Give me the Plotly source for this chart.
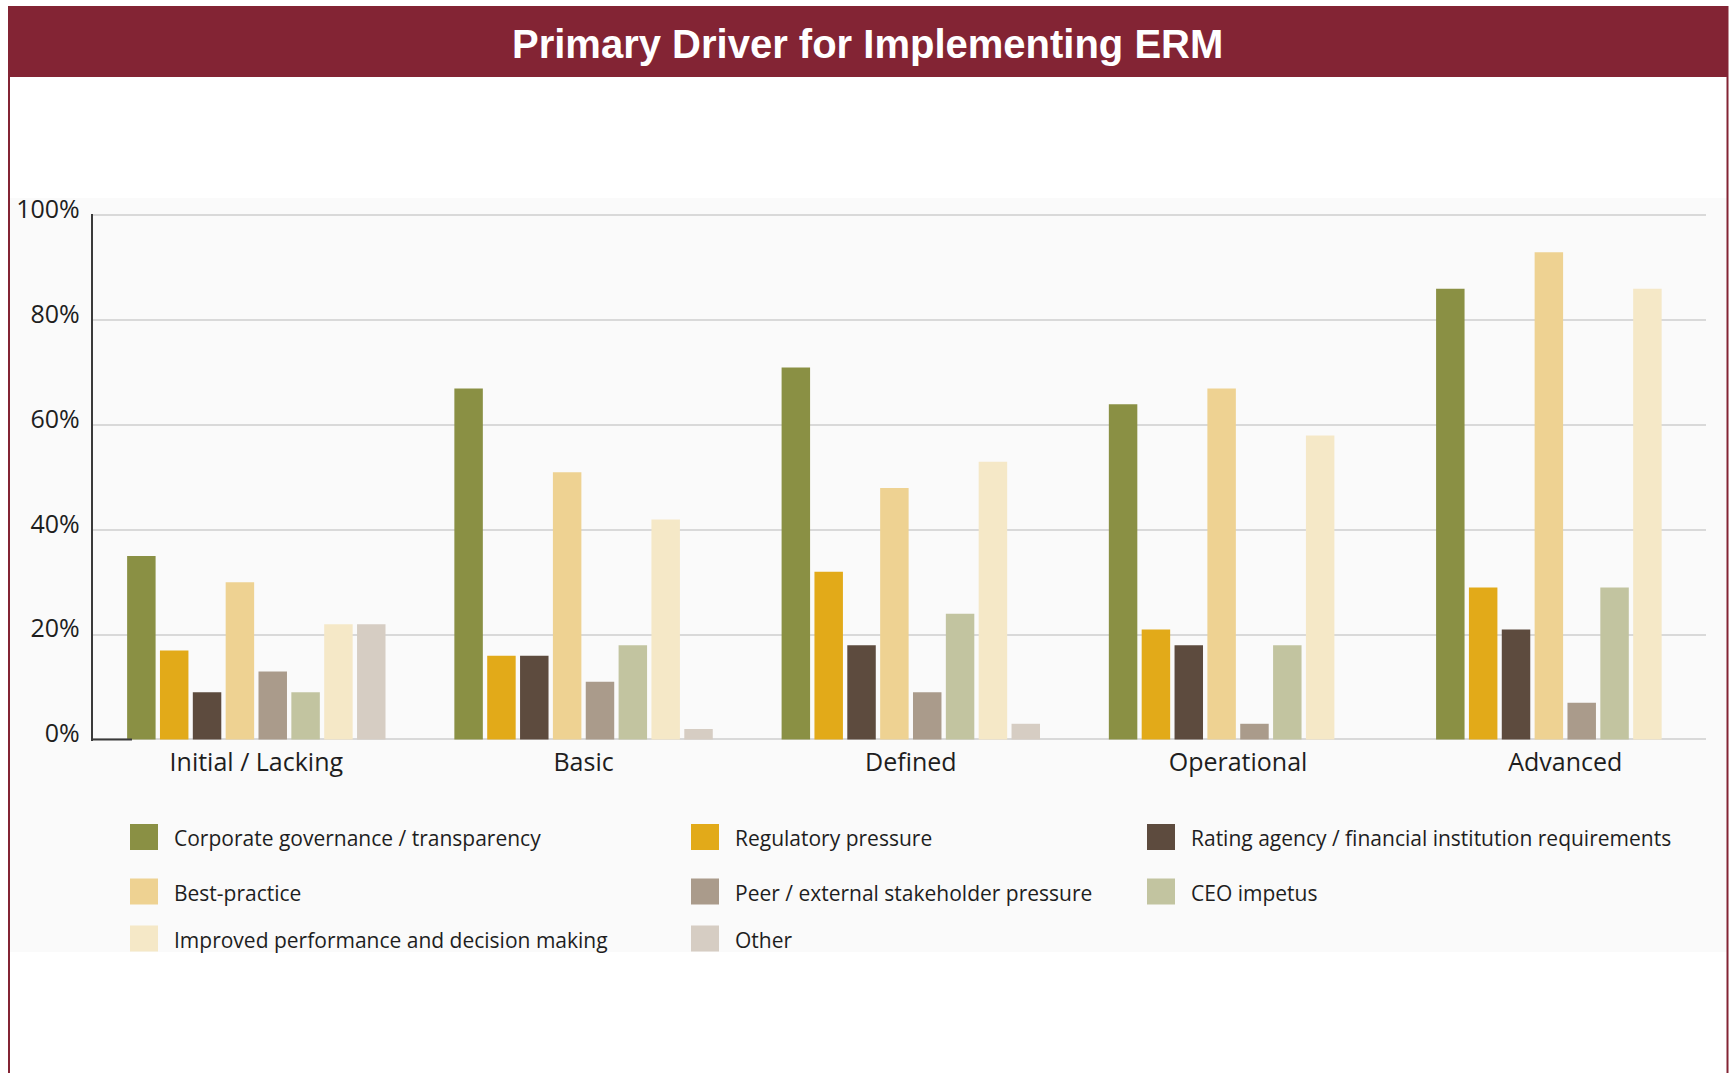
import plotly.graph_objects as go

# ---------------- data ----------------
categories = ["Initial / Lacking", "Basic", "Defined", "Operational", "Advanced"]

series_names = [
    "Corporate governance / transparency",
    "Regulatory pressure",
    "Rating agency / financial institution requirements",
    "Best-practice",
    "Peer / external stakeholder pressure",
    "CEO impetus",
    "Improved performance and decision making",
    "Other",
]

corporate_governance = [35, 67, 71, 64, 86]
regulatory_pressure = [17, 16, 32, 21, 29]
rating_agency = [9, 16, 18, 18, 21]
best_practice = [30, 51, 48, 67, 93]
peer_pressure = [13, 11, 9, 3, 7]
ceo_impetus = [9, 18, 24, 18, 29]
improved_performance = [22, 42, 53, 58, 86]
other = [22, 2, 3, 0, 0]

series_values = [
    corporate_governance, regulatory_pressure, rating_agency, best_practice,
    peer_pressure, ceo_impetus, improved_performance, other,
]

series_colors = ["#8a9044", "#e2aa19", "#5d4b3e", "#eed292",
                 "#aa9b8b", "#c2c4a0", "#f5e8c7", "#d6cdc3"]

y_tick_values = [0, 20, 40, 60, 80, 100]
y_tick_labels = ["0%", "20%", "40%", "60%", "80%", "100%"]
title_text = "Primary Driver for Implementing ERM"

# ---------------- layout helpers ----------------
W, H = 1729, 1073
FONT = "Open Sans, Noto Sans, sans-serif"
MAROON = "#832434"


def px(x):
    return x / W


def py(y):
    return 1 - y / H


fig = go.Figure()
for name, vals, col in zip(series_names, series_values, series_colors):
    fig.add_trace(go.Bar(
        x=categories, y=vals, name=name,
        marker=dict(color=col, line=dict(width=0)),
        showlegend=False,
        hovertemplate="%{x}<br>" + name + ": %{y}%<extra></extra>",
    ))

# plot area (pixels); y range padded slightly so the 0% and 100% gridlines are drawn
Y_PAD = 0.3
PX_PER_UNIT = (739.5 - 215.5) / 100
plot_left, plot_right = 92.7, 1706
plot_top = 215.5 - Y_PAD * PX_PER_UNIT
plot_bottom = 739.5 + Y_PAD * PX_PER_UNIT

shapes = []
annotations = []

# light panel behind chart + legend
shapes.append(dict(type="rect", xref="paper", yref="paper",
                   x0=px(10), x1=px(1727), y0=py(952), y1=py(198),
                   fillcolor="#fafafa", line=dict(width=0), layer="below"))
# title band
shapes.append(dict(type="rect", xref="paper", yref="paper",
                   x0=px(8), x1=px(1728), y0=py(77), y1=py(6),
                   fillcolor=MAROON, line=dict(width=0), layer="below"))
# outer frame (left / right sides)
for xx in (9, 1727.5):
    shapes.append(dict(type="line", xref="paper", yref="paper",
                       x0=px(xx), x1=px(xx), y0=0, y1=py(6),
                       line=dict(color=MAROON, width=2), layer="above"))
# short dark baseline stub at the origin
shapes.append(dict(type="line", xref="x", yref="y",
                   x0=-0.5, x1=-0.38, y0=0, y1=0,
                   line=dict(color="#3a3a3a", width=2), layer="above"))

annotations.append(dict(text="<b>" + title_text + "</b>", xref="paper", yref="paper",
                        x=px(868), y=py(44), xanchor="center", yanchor="middle",
                        showarrow=False,
                        font=dict(family="Liberation Sans, Arial, sans-serif",
                                  size=40, color="white")))

# legend (3 columns, row-major)
col_x = [130, 691, 1147]
row_y = [837, 891.5, 938.5]
for i, (name, col) in enumerate(zip(series_names, series_colors)):
    r, c = divmod(i, 3)
    x0 = col_x[c]
    yc = row_y[r]
    shapes.append(dict(type="rect", xref="paper", yref="paper",
                       x0=px(x0), x1=px(x0 + 28), y0=py(yc + 13), y1=py(yc - 13),
                       fillcolor=col, line=dict(width=0), layer="above"))
    annotations.append(dict(text=name, xref="paper", yref="paper",
                            x=px(x0 + 42), y=py(yc + 1), xanchor="left", yanchor="middle",
                            showarrow=False,
                            font=dict(family=FONT, size=21, color="#1e1e1e")))

fig.update_layout(
    width=W, height=H,
    margin=dict(l=0, r=0, t=0, b=0, pad=0, autoexpand=False),
    paper_bgcolor="white",
    plot_bgcolor="#fafafa",
    barmode="group",
    bargap=0.197,
    bargroupgap=0.133,
    showlegend=False,
    shapes=shapes,
    annotations=annotations,
    font=dict(family=FONT, color="#1e1e1e"),
    xaxis=dict(
        domain=[px(plot_left), px(plot_right)],
        range=[-0.5, 4.43],
        showgrid=False, zeroline=False, showline=False,
        ticks="", ticklabelstandoff=4,
        tickfont=dict(family=FONT, size=25, color="#1e1e1e"),
        fixedrange=True, automargin=False,
    ),
    yaxis=dict(
        domain=[py(plot_bottom), py(plot_top)],
        range=[-Y_PAD, 100 + Y_PAD],
        tickmode="array", tickvals=y_tick_values, ticktext=y_tick_labels,
        showgrid=True, gridcolor="#d9d9d9", gridwidth=1.5,
        zeroline=False,
        showline=True, linecolor="#3a3a3a", linewidth=2,
        ticks="", ticklabelstandoff=6, ticklabelshift=-6,
        tickfont=dict(family=FONT, size=25, color="#1e1e1e"),
        fixedrange=True, automargin=False,
    ),
)

fig.write_html("out.html", config={"displayModeBar": False},
               post_script="document.body.style.margin='0';document.body.style.overflow='hidden';")
